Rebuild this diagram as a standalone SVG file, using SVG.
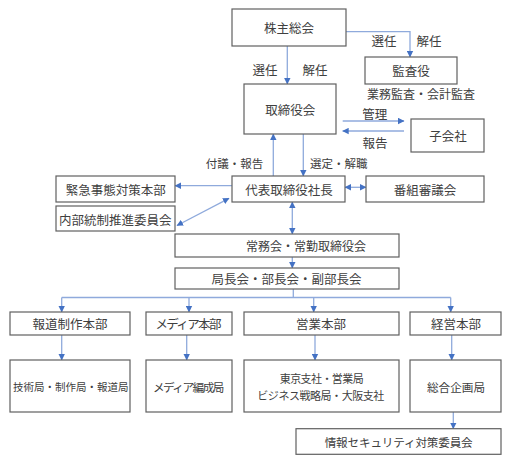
<svg xmlns="http://www.w3.org/2000/svg" width="512" height="462" viewBox="0 0 512 462">
<style>
.box{fill:#fff;stroke:#606060;stroke-width:1.2}
.t{font-family:"Noto Sans CJK JP","Noto Sans CJK SC",sans-serif;font-size:12.5px;fill:#404040;text-anchor:middle;dominant-baseline:central}
.s{font-size:11.6px}
.c{fill:none;stroke:#8FAADC;stroke-width:1.3}
.a{marker-end:url(#ah)}
.d{marker-start:url(#ah);marker-end:url(#ah)}
</style>
<defs>
<marker id="ah" markerUnits="userSpaceOnUse" markerWidth="7" markerHeight="7" refX="6" refY="3.5" orient="auto-start-reverse" viewBox="0 0 7 7">
<path d="M0,0.3 L6.5,3.5 L0,6.7 z" fill="#4472C4"/>
</marker>
</defs>
<rect width="512" height="462" fill="#fff"/>
<g id="connectors">
<polyline class="c a" points="346,31.7 410,31.7 410,57"/>
<line class="c a" x1="287.3" y1="46" x2="287.3" y2="84"/>
<line class="c a" x1="342.7" y1="121" x2="404" y2="121"/>
<line class="c a" x1="404" y1="131" x2="342.7" y2="131"/>
<line class="c a" x1="273.3" y1="176" x2="273.3" y2="134"/>
<line class="c a" x1="303.3" y1="134" x2="303.3" y2="176"/>
<line class="c a" x1="232" y1="185.7" x2="175" y2="185.7"/>
<line class="c d" x1="177" y1="225.5" x2="229" y2="198.3"/>
<line class="c d" x1="345" y1="187.3" x2="366" y2="187.3"/>
<line class="c d" x1="292.3" y1="202" x2="292.3" y2="234"/>
<line class="c a" x1="292.3" y1="257" x2="292.3" y2="268"/>
<polyline class="c" points="293.3,289 293.3,297.5"/>
<line class="c" x1="61.7" y1="297.5" x2="450.7" y2="297.5"/>
<line class="c a" x1="61.7" y1="297.5" x2="61.7" y2="312"/>
<line class="c a" x1="189" y1="297.5" x2="189" y2="312"/>
<line class="c a" x1="313.7" y1="297.5" x2="313.7" y2="312"/>
<line class="c a" x1="450.7" y1="297.5" x2="450.7" y2="312"/>
<line class="c a" x1="61.7" y1="335" x2="61.7" y2="360"/>
<line class="c a" x1="186.7" y1="335" x2="186.7" y2="360"/>
<line class="c a" x1="315" y1="335" x2="315" y2="360"/>
<line class="c a" x1="451.7" y1="335" x2="451.7" y2="360"/>
<line class="c a" x1="453.3" y1="412" x2="453.3" y2="428.7"/>
</g>
<g id="labels">
<text class="t" x="384" y="40">選任</text>
<text class="t" x="429" y="40">解任</text>
<text class="t" x="265" y="69">選任</text>
<text class="t" x="315" y="69">解任</text>
<text class="t" x="374.7" y="113">管理</text>
<text class="t" x="375" y="142.7">報告</text>
<text class="t" style="font-size:11.5px" x="234.5" y="163.3">付議・報告</text>
<text class="t" style="font-size:11.5px" x="338.8" y="163.3">選定・解職</text>
</g>
<g id="kabunushi"><rect class="box" x="232" y="9" width="114" height="37"/><text class="t" x="289" y="27.5">株主総会</text></g>
<g id="kansayaku"><rect class="box" x="365" y="57" width="92" height="27"/><text class="t" x="411" y="70.5">監査役</text>
<text class="t" style="font-size:12px" x="421" y="93">業務監査・会計監査</text></g>
<g id="torishimariyakukai"><rect class="box" x="244" y="84" width="92" height="50"/><text class="t" x="290.3" y="109">取締役会</text></g>
<g id="kogaisha"><rect class="box" x="411" y="119" width="73" height="33"/><text class="t" x="448" y="135.5">子会社</text></g>
<g id="shacho"><rect class="box" x="232" y="176" width="113" height="26"/><text class="t" x="289" y="189">代表取締役社長</text></g>
<g id="bangumi"><rect class="box" x="366" y="176" width="118" height="26"/><text class="t" x="425" y="189">番組審議会</text></g>
<g id="kinkyu"><rect class="box" x="56" y="176" width="119" height="26"/><text class="t" x="115.8" y="189.5">緊急事態対策本部</text></g>
<g id="naibutosei"><rect class="box" x="56" y="206" width="119" height="25"/><text class="t" x="115.3" y="219">内部統制推進委員会</text></g>
<g id="jomukai"><rect class="box" x="175" y="234" width="224" height="23"/><text class="t" style="font-size:12px" x="306" y="245.5">常務会・常勤取締役会</text></g>
<g id="kyokuchokai"><rect class="box" x="175" y="268" width="224" height="21"/><text class="t" x="286.5" y="278.5">局長会・部長会・副部長会</text></g>
<g id="hodo"><rect class="box" x="10" y="312" width="120" height="23"/><text class="t" x="70" y="323.5">報道制作本部</text></g>
<g id="media"><rect class="box" x="146" y="312" width="86" height="23"/><text class="t" x="188.5" y="323.5" textLength="66">メディア本部</text></g>
<g id="eigyo"><rect class="box" x="244" y="312" width="155" height="23"/><text class="t" x="321" y="323.5">営業本部</text></g>
<g id="keiei"><rect class="box" x="410" y="312" width="91" height="23"/><text class="t" x="456" y="323.5">経営本部</text></g>
<g id="gijutsu"><rect class="box" x="10" y="360" width="120" height="52"/><text class="t" style="font-size:10.5px" x="70.7" y="386.5">技術局・制作局・報道局</text></g>
<g id="mediahensei"><rect class="box" x="146" y="360" width="86" height="52"/><text class="t s" x="188.7" y="386.5" textLength="71.5">メディア編成局</text></g>
<g id="tokyo"><rect class="box" x="244" y="360" width="155" height="52"/><text class="t" style="font-size:11px" x="321.7" y="378.3" textLength="84">東京支社・営業局</text><text class="t" style="font-size:11px" x="320.8" y="394.5" textLength="127">ビジネス戦略局・大阪支社</text></g>
<g id="sogokikaku"><rect class="box" x="410" y="360" width="91" height="52"/><text class="t s" x="456" y="386.5">総合企画局</text></g>
<g id="security"><rect class="box" x="296" y="428.7" width="205" height="25.6"/><text class="t s" x="398.7" y="441.7" textLength="148">情報セキュリティ対策委員会</text></g>
</svg>
